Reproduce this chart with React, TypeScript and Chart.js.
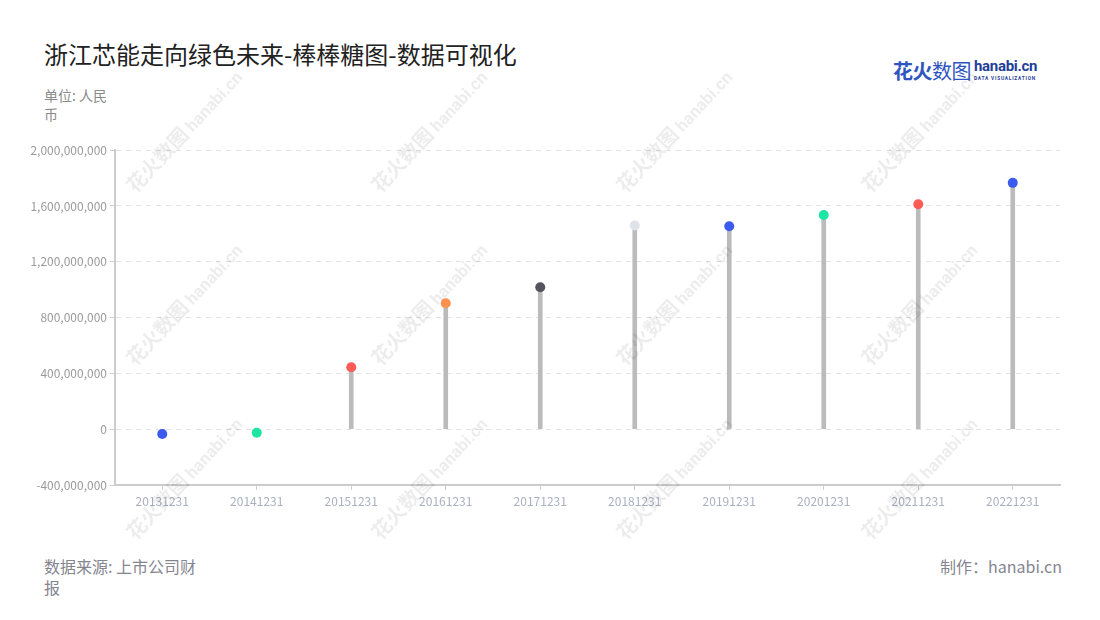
import React, { useEffect, useRef } from "react";
import { Chart, registerables } from "chart.js";

Chart.register(...registerables);

const categories = ["20131231", "20141231", "20151231", "20161231", "20171231", "20181231", "20191231", "20201231", "20211231", "20221231"];
const values = [-35000000, -25000000, 444000000, 903000000, 1018000000, 1460000000, 1455000000, 1536000000, 1613000000, 1766000000];
const dotColors = ["#3b5bef", "#1de5a2", "#fd5b55", "#fe914d", "#55555f", "#dfe3ea", "#3b5bef", "#1de5a2", "#fd5b55", "#3b5bef"];
const yMin = -400000000;
const yMax = 2000000000;
const yStep = 400000000;

const FONT = "'Noto Sans CJK SC', 'Noto Sans', sans-serif";

const wmCols = [184, 429, 674, 919];
const wmRows = [131, 304, 478];

function Watermark({ cx, cy }: { cx: number; cy: number }) {
  return (
    <div
      style={{
        position: "absolute",
        left: cx,
        top: cy,
        transform: "translate(-50%, -50%) rotate(-47deg)",
        whiteSpace: "nowrap",
        color: "rgba(0,0,0,0.075)",
        fontFamily: FONT,
        fontWeight: 700,
        pointerEvents: "none",
        lineHeight: 1,
      }}
    >
      <span style={{ fontSize: 20 }}>花火数图</span>
      <span style={{ fontSize: 17, marginLeft: 4, fontFamily: "Roboto, sans-serif" }}>hanabi.cn</span>
    </div>
  );
}

export default function App() {
  const ref = useRef<HTMLCanvasElement | null>(null);

  useEffect(() => {
    document.body.style.margin = "0";
    const ctx = ref.current;
    if (!ctx) return;
    const chart = new Chart(ctx, {
      type: "bar",
      data: {
        labels: categories,
        datasets: [
          {
            type: "line",
            data: values,
            showLine: false,
            pointRadius: 5,
            pointHoverRadius: 5,
            pointBackgroundColor: dotColors,
            pointBorderColor: dotColors,
            pointBorderWidth: 0,
            order: 0,
          } as any,
          {
            type: "bar",
            data: values,
            backgroundColor: "#bbbbbb",
            barThickness: 4,
            order: 1,
          },
        ],
      },
      options: {
        responsive: false,
        animation: false,
        layout: { padding: { left: 0, right: 40, top: 10, bottom: 0 } },
        plugins: {
          legend: { display: false },
          tooltip: { enabled: false },
        },
        scales: {
          x: {
            offset: true,
            grid: {
              display: true,
              offset: false,
              drawOnChartArea: false,
              drawTicks: true,
              tickLength: 5,
              tickColor: "#cccccc",
              color: "#cccccc",
            },
            border: { display: true, color: "#cccccc", width: 2 },
            ticks: {
              color: "#aab0bf",
              font: { family: FONT, size: 12 },
              padding: 4,
              maxRotation: 0,
            },
            afterFit: (scale: any) => {
              scale.height = 55;
            },
          },
          y: {
            min: yMin,
            max: yMax,
            grid: {
              color: "#e2e2e2",
              lineWidth: 1,
              drawTicks: true,
              tickLength: 5,
              tickColor: "#cccccc",
            },
            border: { display: true, color: "#cccccc", width: 2, dash: [5, 5] },
            ticks: {
              stepSize: yStep,
              color: "#9a9a9a",
              font: { family: FONT, size: 12 },
              padding: 3,
              callback: (v: any) => Number(v).toLocaleString("en-US"),
            },
            afterFit: (scale: any) => {
              scale.width = 115;
            },
          },
        },
      },
    });
    return () => chart.destroy();
  }, []);

  return (
    <div style={{ position: "relative", width: 1100, height: 620, background: "#fff", overflow: "hidden", fontFamily: FONT }}>
      <div style={{ position: "absolute", left: 44, top: 38, fontSize: 24, color: "#222", lineHeight: "32px", whiteSpace: "nowrap" }}>
        浙江芯能走向绿色未来-棒棒糖图-数据可视化
      </div>
      <div style={{ position: "absolute", left: 44, top: 86, width: 70, fontSize: 14, color: "#8a8a8a", lineHeight: "19px" }}>
        单位: 人民币
      </div>
      <div style={{ position: "absolute", left: 893, top: 58, display: "flex", alignItems: "center", whiteSpace: "nowrap" }}>
        <span style={{ fontSize: 20, color: "#2f55c0", lineHeight: "26px", letterSpacing: -0.5 }}>
          <span style={{ fontWeight: 700 }}>花火</span>
          <span style={{ fontWeight: 400 }}>数图</span>
        </span>
        <div style={{ marginLeft: 3, display: "flex", flexDirection: "column", lineHeight: 1 }}>
          <span style={{ fontSize: 15, fontWeight: 700, color: "#1f3e99", fontFamily: "Roboto, sans-serif", letterSpacing: -0.3 }}>hanabi.cn</span>
          <span style={{ fontSize: 8, color: "#1f3e99", transform: "scale(0.6)", transformOrigin: "left top", marginTop: 2, letterSpacing: 1.3, fontFamily: "Roboto, sans-serif", fontWeight: 700 }}>DATA VISUALIZATION</span>
        </div>
      </div>
      <canvas ref={ref} width={1100} height={400} style={{ position: "absolute", left: 0, top: 140, width: 1100, height: 400 }} />
      {wmRows.map((cy) => wmCols.map((cx) => <Watermark key={`${cx}-${cy}`} cx={cx} cy={cy} />))}
      <div style={{ position: "absolute", left: 44, top: 556, width: 160, fontSize: 16, color: "#858590", lineHeight: "21px" }}>
        数据来源: 上市公司财报
      </div>
      <div style={{ position: "absolute", right: 38, top: 556, fontSize: 16, color: "#858590", lineHeight: "21px", whiteSpace: "nowrap" }}>
        制作：hanabi.cn
      </div>
    </div>
  );
}
